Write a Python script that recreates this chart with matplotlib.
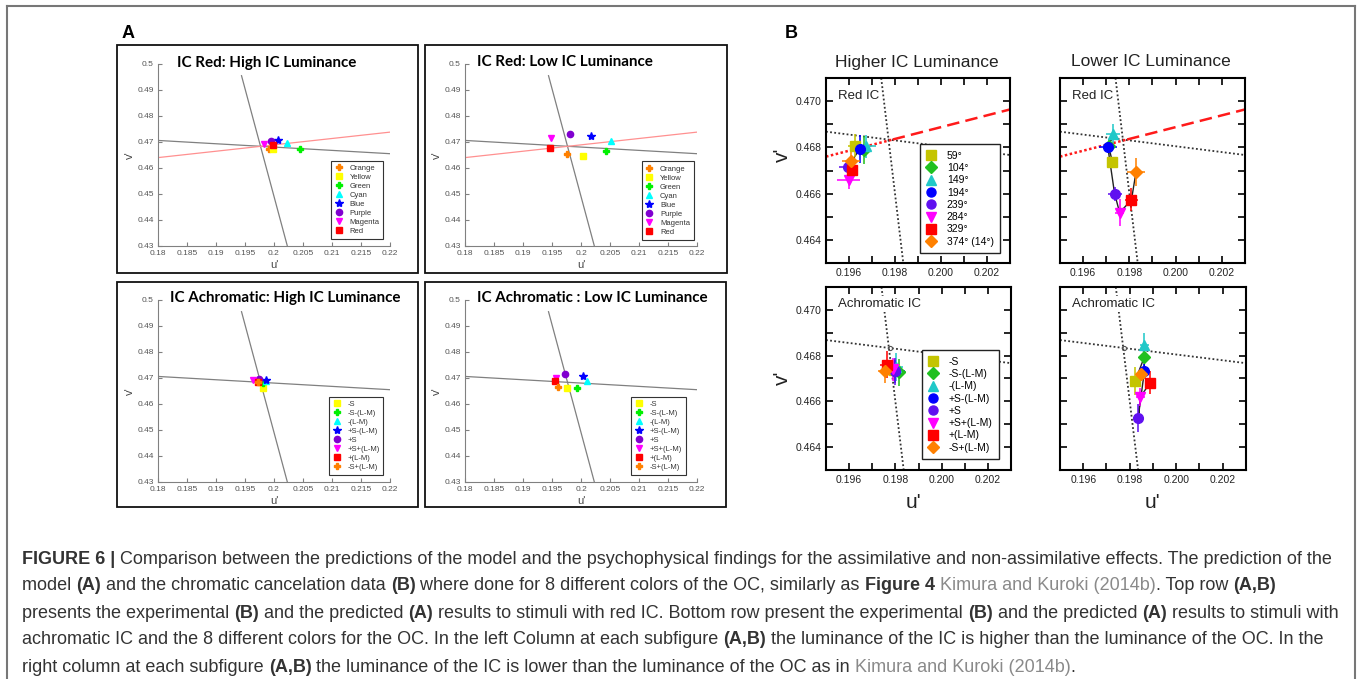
import numpy as np
import matplotlib
matplotlib.use("Agg")
import matplotlib.pyplot as plt
from matplotlib.lines import Line2D
from matplotlib.patches import Rectangle
from matplotlib.ticker import MultipleLocator, FixedLocator, FixedFormatter, FormatStrFormatter

plt.rcParams['font.family'] = ['Liberation Sans', 'DejaVu Sans']

W, H = 1357, 679

# ---------------- data: panel A (model predictions) ----------------
a_red_labels = ['Orange', 'Yellow', 'Green', 'Cyan', 'Blue', 'Purple', 'Magenta', 'Red']
a_red_colors = ['#FF8000', '#FFFF00', '#00F000', '#00FFFF', '#0000FF', '#8000D0', '#FF00FF', '#FF0000']
a_red_markers = ['P', 's', 'P', '^', '*', 'o', 'v', 's']

a_achro_labels = ['-S', '-S-(L-M)', '-(L-M)', '+S-(L-M)', '+S', '+S+(L-M)', '+(L-M)', '-S+(L-M)']
a_achro_colors = ['#FFFF00', '#00F000', '#00FFFF', '#0000FF', '#8000D0', '#FF00FF', '#FF0000', '#FF8000']
a_achro_markers = ['s', 'P', '^', '*', 'o', 'v', 's', 'P']

a_red_high_u = [0.1992, 0.1999, 0.2045, 0.2023, 0.2007, 0.1995, 0.1982, 0.1999]
a_red_high_v = [0.4673, 0.4673, 0.4675, 0.4696, 0.4706, 0.4702, 0.4692, 0.4688]
a_red_low_u = [0.1976, 0.2003, 0.2043, 0.2051, 0.2018, 0.1981, 0.1949, 0.1946]
a_red_low_v = [0.4652, 0.4646, 0.4667, 0.4702, 0.4723, 0.4729, 0.4714, 0.4678]
a_achro_high_u = [0.1981, 0.1981, 0.1987, 0.1987, 0.1974, 0.1964, 0.1973, 0.1972]
a_achro_high_v = [0.4663, 0.4679, 0.4689, 0.4693, 0.4697, 0.4693, 0.4685, 0.4683]
a_achro_low_u = [0.1976, 0.1993, 0.2010, 0.2004, 0.1973, 0.1957, 0.1955, 0.1961]
a_achro_low_v = [0.4661, 0.4663, 0.4689, 0.4706, 0.4715, 0.4701, 0.4688, 0.4667]

a_steep_u = [0.1944, 0.2023]
a_steep_v = [0.4955, 0.4300]
a_flat_u = [0.18, 0.22]
a_flat_v = [0.4706, 0.4655]
a_redline_u = [0.18, 0.22]
a_redline_v = [0.4640, 0.4738]

a_xticks = [0.18, 0.185, 0.19, 0.195, 0.2, 0.205, 0.21, 0.215, 0.22]
a_yticks = [0.43, 0.44, 0.45, 0.46, 0.47, 0.48, 0.49, 0.5]

# ---------------- data: panel B (chromatic cancelation) ----------------
b_red_labels = ['59°', '104°', '149°', '194°', '239°', '284°', '329°', '374° (14°)']
b_achro_labels = ['-S', '-S-(L-M)', '-(L-M)', '+S-(L-M)', '+S', '+S+(L-M)', '+(L-M)', '-S+(L-M)']
b_colors = ['#C4C400', '#20C020', '#20C8C8', '#0000FF', '#6010F0', '#FF00FF', '#FF0000', '#FF8000']
b_markers = ['s', 'D', '^', 'o', 'o', 'v', 's', 'D']

b_red_high_u = [0.19626, 0.19664, 0.19676, 0.19646, 0.19597, 0.19600, 0.19611, 0.19609]
b_red_high_v = [0.46807, 0.46790, 0.46804, 0.46794, 0.46714, 0.46661, 0.46701, 0.46743]
b_red_high_uerr = [0.0003, 0.0003, 0.0004, 0.0003, 0.0004, 0.0005, 0.0003, 0.0004]
b_red_high_verr = [0.0005, 0.0006, 0.0005, 0.0006, 0.0003, 0.0004, 0.0003, 0.0004]

b_red_low_u = [0.19727, 0.19710, 0.19731, 0.19707, 0.19736, 0.19758, 0.19809, 0.19829]
b_red_low_v = [0.46735, 0.46806, 0.46860, 0.46800, 0.46600, 0.46518, 0.46573, 0.46695]
b_red_low_uerr = [0.0001, 0.0001, 0.0003, 0.0004, 0.0003, 0.0002, 0.0003, 0.0004]
b_red_low_verr = [0.0002, 0.0003, 0.0004, 0.0002, 0.0003, 0.0006, 0.0005, 0.0006]

b_achro_high_u = [0.19793, 0.19817, 0.19804, 0.19800, 0.19797, 0.19789, 0.19764, 0.19757]
b_achro_high_v = [0.46737, 0.46727, 0.46751, 0.46731, 0.46731, 0.46741, 0.46760, 0.46731]
b_achro_high_uerr = [0.0003, 0.0003, 0.0003, 0.0004, 0.0003, 0.0003, 0.0003, 0.0003]
b_achro_high_verr = [0.0005, 0.0006, 0.0006, 0.0005, 0.0006, 0.0005, 0.0006, 0.0005]

b_achro_low_u = [0.19823, 0.19862, 0.19862, 0.19863, 0.19836, 0.19846, 0.19888, 0.19849]
b_achro_low_v = [0.46689, 0.46792, 0.46847, 0.46732, 0.46527, 0.46620, 0.46682, 0.46718]
b_achro_low_uerr = [0.0001, 0.0002, 0.0002, 0.0002, 0.0001, 0.0002, 0.0002, 0.0002]
b_achro_low_verr = [0.0006, 0.0002, 0.0005, 0.0003, 0.0006, 0.0004, 0.0005, 0.0003]

b_steep_u = [0.1974, 0.19836]
b_steep_v = [0.4710, 0.4630]
b_flat_u = [0.195, 0.203]
b_flat_v = [0.46868, 0.46767]
b_redline_u = [0.195, 0.1979, 0.203]
b_redline_v = [0.4676, 0.46834, 0.46964]
b_cross_u = [0.19775]
b_cross_v = [0.46832]

b_xticks = [0.196, 0.198, 0.200, 0.202]
b_yticks = [0.464, 0.466, 0.468, 0.470]

caption_lines = [
    [("FIGURE 6 | ", 'bold', '#333333'),
     ("Comparison between the predictions of the model and the psychophysical findings for the "
      "assimilative and non-assimilative effects. The prediction of the", 'normal', '#333333')],
    [("model ", 'normal', '#333333'), ("(A)", 'bold', '#333333'),
     (" and the chromatic cancelation data ", 'normal', '#333333'), ("(B)", 'bold', '#333333'),
     (" where done for 8 different colors of the OC, similarly as ", 'normal', '#333333'),
     ("Figure 4", 'bold', '#333333'), (" ", 'normal', '#333333'),
     ("Kimura and Kuroki (2014b)", 'normal', '#8a8a8a'), (". Top row ", 'normal', '#333333'),
     ("(A,B)", 'bold', '#333333')],
    [("presents the experimental ", 'normal', '#333333'), ("(B)", 'bold', '#333333'),
     (" and the predicted ", 'normal', '#333333'), ("(A)", 'bold', '#333333'),
     (" results to stimuli with red IC. Bottom row present the experimental ", 'normal', '#333333'),
     ("(B)", 'bold', '#333333'), (" and the predicted ", 'normal', '#333333'),
     ("(A)", 'bold', '#333333'), (" results to stimuli with", 'normal', '#333333')],
    [("achromatic IC and the 8 different colors for the OC. In the left Column at each subfigure ",
      'normal', '#333333'), ("(A,B)", 'bold', '#333333'),
     (" the luminance of the IC is higher than the luminance of the OC. In the", 'normal', '#333333')],
    [("right column at each subfigure ", 'normal', '#333333'), ("(A,B)", 'bold', '#333333'),
     (" the luminance of the IC is lower than the luminance of the OC as in ", 'normal', '#333333'),
     ("Kimura and Kuroki (2014b)", 'normal', '#8a8a8a'), (".", 'normal', '#333333')],
]
caption_y = [559, 586, 613, 640, 667]


def box(l, t, r, b):
    return [l / W, 1 - b / H, (r - l) / W, (b - t) / H]


def ftext(x, y, s, **kw):
    return fig.text(x / W, 1 - y / H, s, **kw)


fig = plt.figure(figsize=(W / 100, H / 100), dpi=100)

# outer frame of the figure
for xs, ys in [([7, 7], [6, H + 5]), ([7, 1355], [6, 6]), ([1355, 1355], [6, H + 5])]:
    fig.add_artist(Line2D([x / W for x in xs], [1 - y / H for y in ys],
                          transform=fig.transFigure, color='#777777', lw=1.5))


# ---------------- panel A ----------------
def draw_a(pos, frame, title, tx, ty, us, vs, labels, colors, markers, red_line, leg_anchor):
    fig.add_artist(Rectangle((frame[0] / W, 1 - frame[3] / H), (frame[2] - frame[0]) / W,
                             (frame[3] - frame[1]) / H, transform=fig.transFigure,
                             fill=False, ec='#111111', lw=1.3))
    ax = fig.add_axes(box(*pos))
    ax.plot(a_steep_u, a_steep_v, color='#808080', lw=0.9, zorder=1)
    ax.plot(a_flat_u, a_flat_v, color='#808080', lw=0.9, zorder=1)
    if red_line:
        ax.plot(a_redline_u, a_redline_v, color='#FF9090', lw=0.9, zorder=1)
    for u, v, lab, c, m in zip(us, vs, labels, colors, markers):
        ax.plot([u], [v], ls='none', marker=m, color=c, ms=6 if m == '*' else 4.5,
                label=lab, zorder=3)
    ax.set_xlim(0.18, 0.22)
    ax.set_ylim(0.43, 0.5)
    ax.xaxis.set_major_locator(FixedLocator(a_xticks))
    ax.xaxis.set_major_formatter(FixedFormatter(['%g' % t for t in a_xticks]))
    ax.yaxis.set_major_locator(FixedLocator(a_yticks))
    ax.yaxis.set_major_formatter(FixedFormatter(['%g' % t for t in a_yticks]))
    for s in ['top', 'right']:
        ax.spines[s].set_visible(False)
    for s in ['left', 'bottom']:
        ax.spines[s].set_color('#808080')
        ax.spines[s].set_linewidth(0.8)
    ax.tick_params(direction='in', length=3, color='#808080', labelsize=6,
                   labelcolor='#555555', pad=3)
    ax.set_xlabel("u'", fontsize=8, color='#444444', labelpad=2)
    ax.set_ylabel("v'", fontsize=8, color='#444444', labelpad=2)
    leg = ax.legend(loc='lower right', bbox_to_anchor=leg_anchor, fontsize=5.5,
                    frameon=True, fancybox=False, framealpha=1, edgecolor='#333333',
                    borderpad=0.5, labelspacing=0.22, handlelength=1.0,
                    handletextpad=0.9, borderaxespad=0)
    leg.get_frame().set_linewidth(0.8)
    for t in leg.get_texts():
        t.set_color('#333333')
    ftext(tx, ty, title, fontsize=10.9, weight='bold', family='Lato', va='center', ha='left')
    return ax


draw_a((158, 64, 390, 246), (117, 45, 418, 273), 'IC Red: High IC Luminance', 177, 63,
       a_red_high_u, a_red_high_v, a_red_labels, a_red_colors, a_red_markers, True, (0.971, 0.04))
draw_a((465, 64, 697, 246), (425, 45, 727, 273), 'IC Red: Low IC Luminance', 477, 62,
       a_red_low_u, a_red_low_v, a_red_labels, a_red_colors, a_red_markers, True, (0.986, 0.035))
draw_a((158, 300, 390, 482), (117, 282, 418, 507), 'IC Achromatic: High IC Luminance', 170, 298,
       a_achro_high_u, a_achro_high_v, a_achro_labels, a_achro_colors, a_achro_markers, False,
       (0.971, 0.04))
draw_a((465, 300, 697, 482), (425, 282, 726, 507), 'IC Achromatic : Low IC Luminance', 477, 298,
       a_achro_low_u, a_achro_low_v, a_achro_labels, a_achro_colors, a_achro_markers, False,
       (0.951, 0.04))

ftext(122, 33, 'A', fontsize=13, weight='bold', va='center', ha='left')


# ---------------- panel B ----------------
def draw_b(pos, us, vs, uerr, verr, labels, tag, red_line, left_lab, legend_anchor, cross):
    ax = fig.add_axes(box(*pos))
    ax.plot(b_steep_u, b_steep_v, ls=(0, (1, 1.3)), color='#333333', lw=1.3, zorder=1)
    ax.plot(b_flat_u, b_flat_v, ls=(0, (1, 1.3)), color='#333333', lw=1.3, zorder=1)
    if red_line:
        ax.plot(b_redline_u[:2], b_redline_v[:2], ls=(0, (1, 1)), color='#FF1A1A', lw=1.8, zorder=1)
        ax.plot(b_redline_u[1:], b_redline_v[1:], ls=(0, (5, 2.5)), color='#FF1A1A', lw=1.8, zorder=1)
    if cross:
        ax.plot(b_cross_u, b_cross_v, 'o', ms=3, mfc='none', mec='#555555', mew=0.8, zorder=1)
    ax.plot(us, vs, color='#222222', lw=1.0, zorder=2)
    for u, v, eu, ev, c, m in zip(us, vs, uerr, verr, b_colors, b_markers):
        ax.errorbar([u], [v], xerr=[eu], yerr=[ev], fmt='none', ecolor=c, elinewidth=1.4,
                    alpha=0.8, capsize=0, zorder=3)
        ax.plot([u], [v], ls='none', marker=m, color=c, ms=7 if m != 'D' else 6, zorder=4)
    ax.set_xlim(0.195, 0.203)
    ax.set_ylim(0.463, 0.471)
    ax.xaxis.set_major_locator(FixedLocator(b_xticks))
    ax.yaxis.set_major_locator(FixedLocator(b_yticks))
    ax.xaxis.set_minor_locator(MultipleLocator(0.001))
    ax.yaxis.set_minor_locator(MultipleLocator(0.001))
    ax.xaxis.set_major_formatter(FormatStrFormatter('%.3f'))
    ax.yaxis.set_major_formatter(FormatStrFormatter('%.3f'))
    ax.tick_params(which='both', direction='in', top=True, right=True, length=5, width=1.2,
                   labelsize=7.5, labelcolor='#222222')
    if not left_lab:
        ax.tick_params(labelleft=False)
    for s in ax.spines.values():
        s.set_linewidth(1.5)
    ax.text(0.065, 0.905, tag, transform=ax.transAxes, fontsize=9.5, va='center', ha='left',
            color='#222222', zorder=5,
            bbox=dict(fc='white', ec='none', pad=1.5))
    if labels is not None:
        handles = [Line2D([], [], ls='none', marker=m, color=c, ms=6.5 if m != 'D' else 6)
                   for m, c in zip(b_markers, b_colors)]
        leg = ax.legend(handles, labels, loc='lower right', bbox_to_anchor=legend_anchor,
                        fontsize=7.5, frameon=True, fancybox=False, framealpha=1,
                        edgecolor='#222222', borderpad=0.6, labelspacing=0.22,
                        handlelength=1.0, handletextpad=1.0, borderaxespad=0)
        leg.get_frame().set_linewidth(1.0)
        leg.set_zorder(6)
    return ax


draw_b((826, 78, 1010, 263), b_red_high_u, b_red_high_v, b_red_high_uerr, b_red_high_verr,
       b_red_labels, 'Red IC', True, True, (0.946, 0.054), False)
draw_b((1060, 78, 1245, 263), b_red_low_u, b_red_low_v, b_red_low_uerr, b_red_low_verr,
       None, 'Red IC', True, False, None, False)
draw_b((826, 287, 1011, 470), b_achro_high_u, b_achro_high_v, b_achro_high_uerr,
       b_achro_high_verr, b_achro_labels, 'Achromatic IC', False, True, (0.935, 0.06), True)
draw_b((1060, 287, 1246, 470), b_achro_low_u, b_achro_low_v, b_achro_low_uerr,
       b_achro_low_verr, None, 'Achromatic IC', False, False, None, True)

ftext(785, 33, 'B', fontsize=13, weight='bold', va='center', ha='left')
ftext(917, 62, 'Higher IC Luminance', fontsize=12.5, va='center', ha='center', color='#222222')
ftext(1151, 61, 'Lower IC Luminance', fontsize=12.5, va='center', ha='center', color='#222222')
ftext(782, 155, "v'", fontsize=15, rotation=90, va='center', ha='center', color='#222222')
ftext(782, 378, "v'", fontsize=15, rotation=90, va='center', ha='center', color='#222222')
ftext(913, 503, "u'", fontsize=15, va='center', ha='center', color='#222222')
ftext(1152, 503, "u'", fontsize=15, va='center', ha='center', color='#222222')

# ---------------- caption ----------------
renderer = fig.canvas.get_renderer()


def rich_line(x, y, segs, size):
    cur = x
    made = []
    for s, wt, col in segs:
        t = ftext(cur, y, s, fontsize=size, weight=wt, color=col, va='center', ha='left')
        cur += t.get_window_extent(renderer=renderer).width
        made.append(t)
    return cur, made


end, tmp = rich_line(22, caption_y[0], caption_lines[0], 10)
for t in tmp:
    t.remove()
cap_size = 10 * (1334 - 22) / (end - 22)
for segs, y in zip(caption_lines, caption_y):
    rich_line(22, y, segs, cap_size)

fig.savefig('out.png', dpi=100)
